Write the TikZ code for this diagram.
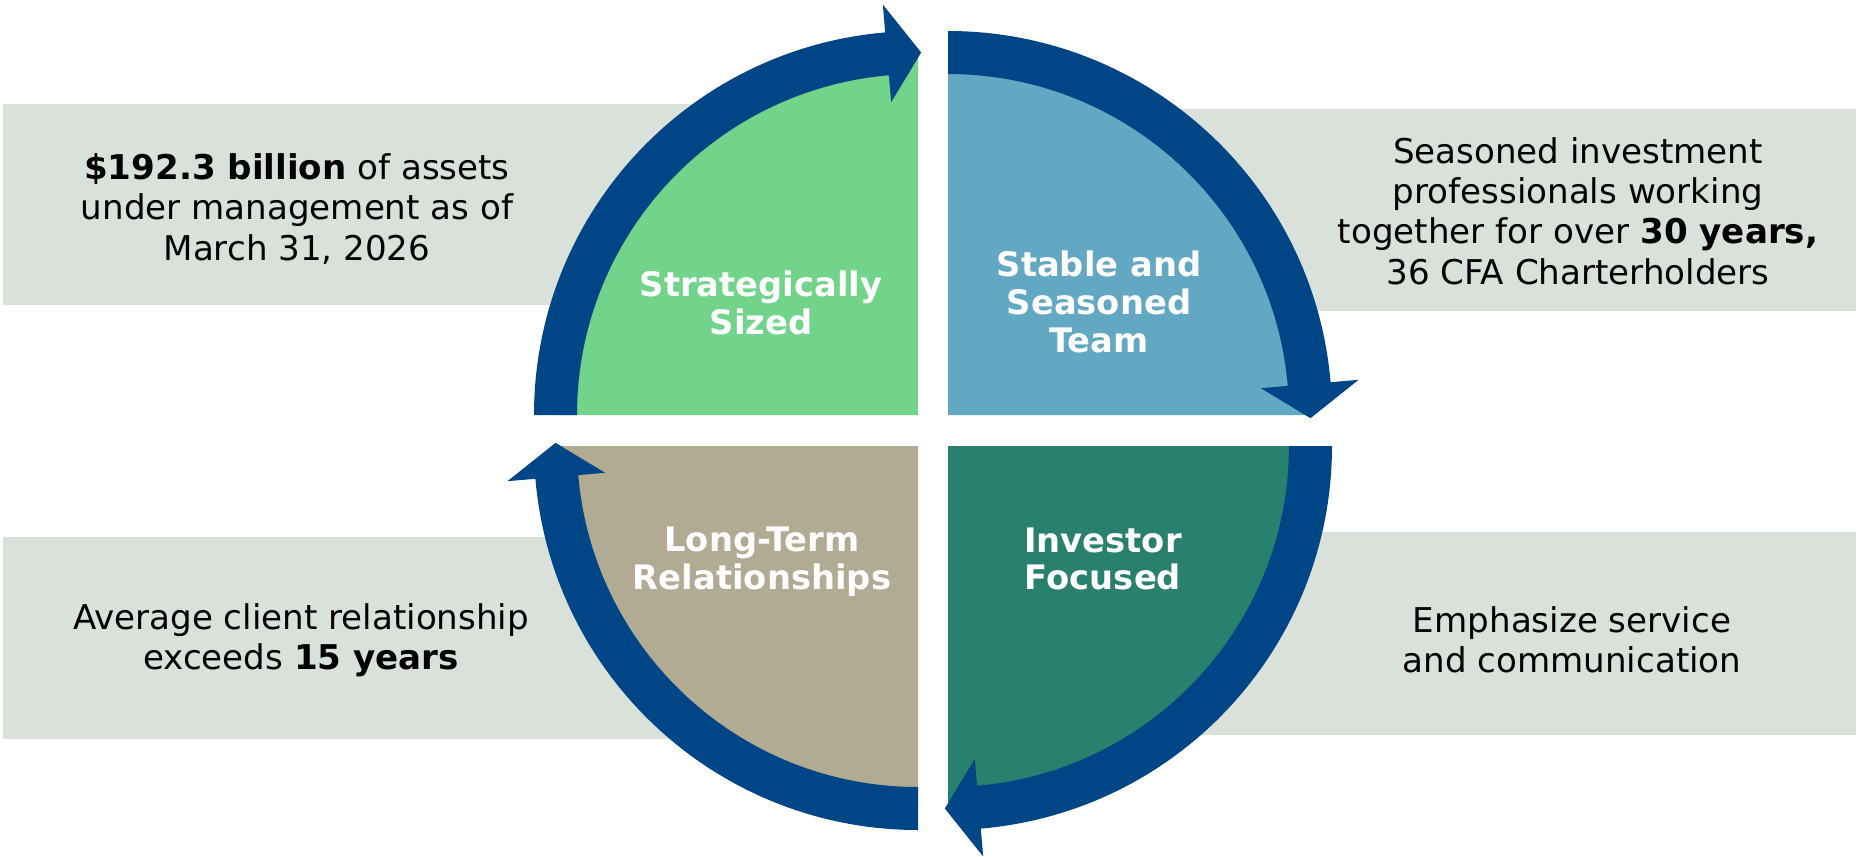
\documentclass[tikz,border=0pt]{standalone}
\usepackage{fontspec}
\setmainfont{DejaVu Sans}
\usetikzlibrary{calc}
\definecolor{navy}{RGB}{0,69,134}
\definecolor{boxgray}{RGB}{218,225,218}
\definecolor{qgreen}{RGB}{114,211,138}
\definecolor{qblue}{RGB}{98,168,194}
\definecolor{qteal}{RGB}{41,128,110}
\definecolor{qtan}{RGB}{177,171,147}
\begin{document}
\begin{tikzpicture}[x=0.01cm,y=0.01cm,
  body/.style={align=center,text=black,font=\fontsize{9.7}{11.5}\selectfont},
  title/.style={align=center,text=white,font=\fontsize{9.6}{10.7}\selectfont\bfseries}]
\useasboundingbox (0,0) rectangle (1860,856);
%背景框
\fill[boxgray] (3,551) rectangle (800,752);
\fill[boxgray] (1000,545) rectangle (1856,747);
\fill[boxgray] (3,117) rectangle (800,319);
\fill[boxgray] (1000,121) rectangle (1856,324);
%四个角点
\coordinate (G) at (918,441);
\coordinate (B) at (948,441);
\coordinate (T) at (948,410);
\coordinate (L) at (918,410);
%扇形
\fill[qgreen] (G) -- ++(180:362) arc[start angle=180,end angle=90,radius=362] -- cycle;
\fill[qblue] (B) -- ++(90:362) arc[start angle=90,end angle=0,radius=362] -- cycle;
\fill[qteal] (T) -- ++(0:362) arc[start angle=0,end angle=-90,radius=362] -- cycle;
\fill[qtan] (L) -- ++(270:362) arc[start angle=270,end angle=180,radius=362] -- cycle;
%箭头
\foreach \cn/\sa in {G/180,B/90,T/0,L/270}{
  \pgfmathsetmacro\ea{\sa-85.1}
  \pgfmathsetmacro\ta{\sa-90.5}
  \fill[navy] ($(\cn)+(\sa:384)$) arc[start angle=\sa,end angle=\ea,radius=384]
    -- ($(\cn)+(\ea:412)$) -- ($(\cn)+(\ta:362.5)$) -- ($(\cn)+(\ea:314)$)
    -- ($(\cn)+(\ea:341)$) arc[start angle=\ea,end angle=\sa,radius=341] -- cycle;
}
%扇形文字
\node[title] (sized) at (761,553) {Strategically\\Sized};
\node[title] (team) at (1099,554) {Stable and\\Seasoned\\Team};
\node[title] (longterm) at (762,294) {Long-Term\\Relationships};
\node[title] (investor) at (1103,297) {Investor\\Focused};
%说明文字
\node[body] (aum) at (297,647) {\textbf{\$192.3 billion} of assets\\under management as of\\March 31, 2026};
\node[body] (prof) at (1578,645) {Seasoned investment\\professionals working\\together for over \textbf{30 years,}\\36 CFA Charterholders};
\node[body] (client) at (301,216) {Average client relationship\\exceeds \textbf{15 years}};
\node[body] (service) at (1572,216) {Emphasize service\\and communication};
\end{tikzpicture}
\end{document}
